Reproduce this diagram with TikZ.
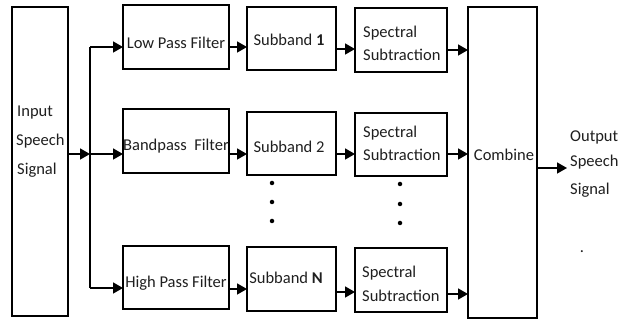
\documentclass[tikz,border=0pt]{standalone}
\usepackage{fontspec}
\setmainfont{Carlito}
\usetikzlibrary{arrows.meta}
\begin{document}
\begin{tikzpicture}[x=1pt,y=-1pt,
  box/.style={draw, line width=1.2pt, inner sep=0pt, outer sep=0pt},
  txt/.style={inner sep=0pt, font=\fontsize{16.5}{19}\selectfont, text=black!88},
  stk/.style={inner sep=0pt, font=\fontsize{16.5}{19}\selectfont, align=left, text=black!88},
  arr/.style={line width=1.6pt, -{Triangle[length=10pt,width=11pt]}},
  ln/.style={line width=1.6pt},
  dot/.style={fill=black, circle, inner sep=0pt, minimum size=4.5pt}]
\useasboundingbox (0,0) rectangle (619,320);
% boxes
\node[box, minimum width=56pt, minimum height=309pt] (in) at (40,161.5) {};
\node[box, minimum width=106pt, minimum height=64pt] (f1) at (176,37) {};
\node[box, minimum width=106pt, minimum height=64pt] (f2) at (176,141) {};
\node[box, minimum width=106pt, minimum height=63pt] (f3) at (176,277.5) {};
\node[box, minimum width=89pt, minimum height=63pt] (s1) at (291.5,38.5) {};
\node[box, minimum width=89pt, minimum height=63pt] (s2) at (291.5,143.5) {};
\node[box, minimum width=89pt, minimum height=64pt] (s3) at (291.5,279) {};
\node[box, minimum width=92pt, minimum height=64pt] (p1) at (401,40) {};
\node[box, minimum width=92pt, minimum height=63pt] (p2) at (401,144.5) {};
\node[box, minimum width=92pt, minimum height=64pt] (p3) at (401,280) {};
\node[box, minimum width=69pt, minimum height=311pt] (cb) at (502.5,162.5) {};
% texts
\node[stk, anchor=west] (tin1) at (17,113) {Input};
\node[stk, anchor=west] (tin2) at (16,141) {Speech};
\node[stk, anchor=west] (tin3) at (17,170) {Signal};
\node[txt] (tf1) at (176,43) {Low Pass Filter};
\node[txt] (tf2) at (176,146) {Bandpass\ \ Filter};
\node[txt] (tf3) at (176,283) {High Pass Filter};
\node[txt] (ts1) at (289,40) {Subband \textbf{1}};
\node[txt] (ts2) at (289,147) {Subband 2};
\node[txt] (ts3) at (286,278) {Subband \textbf{N}};
\node[stk, anchor=west] (tp1a) at (363,33) {Spectral};
\node[stk, anchor=west] (tp1b) at (363,55) {Subtraction};
\node[stk, anchor=west] (tp2a) at (363,133) {Spectral};
\node[stk, anchor=west] (tp2b) at (363,155) {Subtraction};
\node[stk, anchor=west] (tp3a) at (362,273) {Spectral};
\node[stk, anchor=west] (tp3b) at (362,296) {Subtraction};
\node[txt] (tcb) at (504,155) {Combine};
\node[stk, anchor=west] (to1) at (570,137) {Output};
\node[stk, anchor=west] (to2) at (570,162) {Speech};
\node[stk, anchor=west] (to3) at (570,190) {Signal};
\node[txt] (tdot) at (582,252) {.};
% dots
\node[dot] (d1) at (272,183) {};
\node[dot] (d2) at (272,202) {};
\node[dot] (d3) at (272,221) {};
\node[dot] (e1) at (400,184) {};
\node[dot] (e2) at (400,204) {};
\node[dot] (e3) at (400,223) {};
% connector coordinates
\coordinate (tt) at (90,47);
\coordinate (tm) at (90,154);
\coordinate (tb) at (90,288);
\coordinate (out) at (567,168);
% connectors
\draw[ln] (tt) -- (tb);
\draw[arr] (in.east |- tm) -- (tm);
\draw[arr] (tt) -- (f1.west |- tt);
\draw[arr] (tm) -- (f2.west |- tm);
\draw[arr] (tb) -- (f3.west |- tb);
\coordinate (y1) at (0,47);
\coordinate (y2) at (0,154);
\coordinate (y3) at (0,289);
\draw[arr] (f1.east |- y1) -- (s1.west |- y1);
\draw[arr] (f2.east |- y2) -- (s2.west |- y2);
\draw[arr] (f3.east |- y3) -- (s3.west |- y3);
\coordinate (z1) at (0,49);
\coordinate (z2) at (0,154);
\coordinate (z3) at (0,292);
\draw[arr] (s1.east |- z1) -- (p1.west |- z1);
\draw[arr] (s2.east |- z2) -- (p2.west |- z2);
\draw[arr] (s3.east |- z3) -- (p3.west |- z3);
\coordinate (w1) at (0,50);
\coordinate (w2) at (0,154);
\coordinate (w3) at (0,294);
\draw[arr] (p1.east |- w1) -- (cb.west |- w1);
\draw[arr] (p2.east |- w2) -- (cb.west |- w2);
\draw[arr] (p3.east |- w3) -- (cb.west |- w3);
\draw[arr] (cb.east |- out) -- (out);
\end{tikzpicture}
\end{document}
